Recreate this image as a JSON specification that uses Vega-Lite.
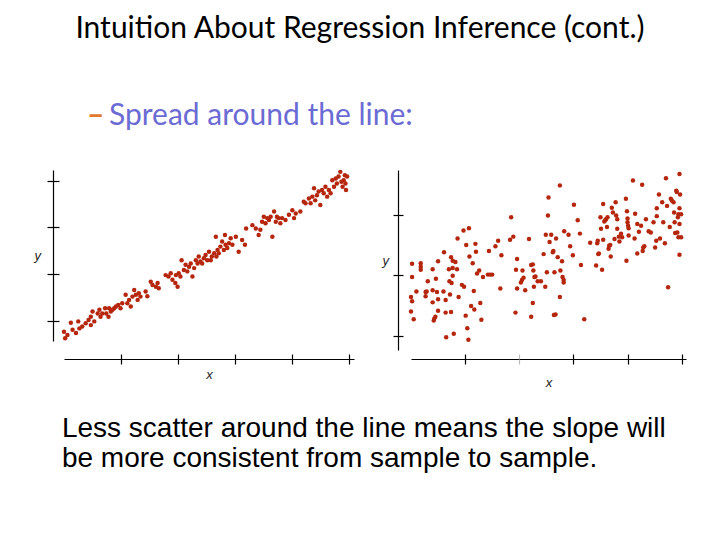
{
  "$schema": "https://vega.github.io/schema/vega-lite/v6.json",
  "background": "white",
  "padding": {"left": 33, "top": 14, "right": 5, "bottom": 5},
  "title": {"text": "Intuition About Regression Inference (cont.)", "font": "Lato", "fontSize": 30, "fontWeight": "normal", "color": "black", "anchor": "middle", "offset": 57},
  "config": {
    "view": {"stroke": null},
    "axis": {"grid": false, "labels": false, "domainColor": "black", "tickColor": "black", "domainWidth": 1.2, "tickWidth": 1.2, "titleFont": "Liberation Sans", "titleFontStyle": "italic", "titleFontWeight": "normal", "titleFontSize": 13, "titleColor": "#222"}
  },
  "datasets": {
    "tight": [
      {"x":0.00,"y":0.77},{"x":0.02,"y":0.63},{"x":0.06,"y":0.70},{"x":0.12,"y":0.96},{"x":0.15,"y":0.81},{"x":0.21,"y":0.74},{"x":0.25,"y":0.99},{"x":0.27,"y":0.84},{"x":0.32,"y":0.88},{"x":0.38,"y":0.95},
      {"x":0.43,"y":1.02},{"x":0.47,"y":0.91},{"x":0.47,"y":1.09},{"x":0.50,"y":1.20},{"x":0.53,"y":0.99},{"x":0.59,"y":1.16},{"x":0.62,"y":1.24},{"x":0.64,"y":1.09},{"x":0.67,"y":1.16},{"x":0.72,"y":1.27},
      {"x":0.74,"y":1.16},{"x":0.78,"y":1.09},{"x":0.79,"y":1.27},{"x":0.82,"y":1.20},{"x":0.85,"y":1.24},{"x":0.88,"y":1.27},{"x":0.91,"y":1.31},{"x":0.95,"y":1.34},{"x":0.99,"y":1.27},{"x":1.02,"y":1.38},
      {"x":1.08,"y":1.56},{"x":1.11,"y":1.38},{"x":1.14,"y":1.45},{"x":1.17,"y":1.31},{"x":1.20,"y":1.52},{"x":1.23,"y":1.66},{"x":1.26,"y":1.56},{"x":1.29,"y":1.45},{"x":1.31,"y":1.59},{"x":1.34,"y":1.52},
      {"x":1.43,"y":1.63},{"x":1.46,"y":1.53},{"x":1.52,"y":1.84},{"x":1.55,"y":1.77},{"x":1.61,"y":1.73},{"x":1.64,"y":1.81},{"x":1.66,"y":1.70},{"x":1.78,"y":1.98},{"x":1.83,"y":1.95},{"x":1.87,"y":2.02},
      {"x":1.90,"y":1.88},{"x":1.95,"y":1.81},{"x":1.96,"y":1.98},{"x":1.99,"y":1.73},{"x":2.01,"y":2.02},{"x":2.04,"y":1.95},{"x":2.06,"y":2.30},{"x":2.10,"y":2.09},{"x":2.13,"y":2.20},{"x":2.16,"y":2.06},
      {"x":2.19,"y":2.16},{"x":2.22,"y":2.23},{"x":2.25,"y":1.95},{"x":2.28,"y":2.13},{"x":2.31,"y":2.30},{"x":2.34,"y":2.23},{"x":2.36,"y":2.38},{"x":2.39,"y":2.27},{"x":2.42,"y":2.23},{"x":2.45,"y":2.34},
      {"x":2.48,"y":2.41},{"x":2.51,"y":2.30},{"x":2.54,"y":2.48},{"x":2.57,"y":2.30},{"x":2.59,"y":2.38},{"x":2.63,"y":2.45},{"x":2.66,"y":2.80},{"x":2.67,"y":2.38},{"x":2.69,"y":2.52},{"x":2.71,"y":2.45},
      {"x":2.74,"y":2.59},{"x":2.77,"y":2.70},{"x":2.80,"y":2.52},{"x":2.82,"y":2.84},{"x":2.83,"y":2.63},{"x":2.86,"y":2.56},{"x":2.89,"y":2.66},{"x":2.92,"y":2.77},{"x":2.95,"y":2.63},{"x":3.01,"y":2.80},
      {"x":3.06,"y":2.48},{"x":3.12,"y":2.73},{"x":3.17,"y":2.63},{"x":3.19,"y":2.98},{"x":3.30,"y":3.05},{"x":3.36,"y":2.98},{"x":3.41,"y":2.84},{"x":3.44,"y":2.95},{"x":3.47,"y":3.12},{"x":3.50,"y":3.23},
      {"x":3.53,"y":3.09},{"x":3.56,"y":3.20},{"x":3.59,"y":3.16},{"x":3.62,"y":3.23},{"x":3.65,"y":2.80},{"x":3.68,"y":3.34},{"x":3.71,"y":3.12},{"x":3.73,"y":3.23},{"x":3.76,"y":3.20},{"x":3.79,"y":3.09},
      {"x":3.82,"y":3.20},{"x":3.88,"y":3.16},{"x":3.94,"y":3.27},{"x":4.00,"y":3.37},{"x":4.03,"y":3.20},{"x":4.06,"y":3.30},{"x":4.14,"y":3.34},{"x":4.20,"y":3.55},{"x":4.23,"y":3.52},{"x":4.29,"y":3.62},
      {"x":4.32,"y":3.52},{"x":4.35,"y":3.66},{"x":4.38,"y":3.84},{"x":4.40,"y":3.58},{"x":4.43,"y":3.69},{"x":4.46,"y":3.77},{"x":4.49,"y":3.48},{"x":4.52,"y":3.80},{"x":4.55,"y":3.73},{"x":4.58,"y":3.87},
      {"x":4.61,"y":3.66},{"x":4.64,"y":3.80},{"x":4.67,"y":3.73},{"x":4.70,"y":4.01},{"x":4.73,"y":3.87},{"x":4.76,"y":4.05},{"x":4.78,"y":3.94},{"x":4.81,"y":4.09},{"x":4.84,"y":4.19},{"x":4.86,"y":3.98},
      {"x":4.88,"y":3.87},{"x":4.90,"y":4.01},{"x":4.92,"y":4.12},{"x":4.93,"y":3.94},{"x":4.94,"y":3.80},{"x":4.96,"y":4.09}
    ],
    "loose": [
      {"x":0.02,"y":2.19},{"x":0.02,"y":1.97},{"x":0.00,"y":1.64},{"x":0.02,"y":1.57},{"x":0.00,"y":1.40},{"x":0.05,"y":1.27},{"x":0.10,"y":1.73},{"x":0.18,"y":2.20},{"x":0.18,"y":2.14},{"x":0.18,"y":2.09},
      {"x":0.27,"y":1.72},{"x":0.27,"y":1.65},{"x":0.29,"y":1.73},{"x":0.31,"y":1.90},{"x":0.40,"y":2.10},{"x":0.40,"y":1.75},{"x":0.40,"y":1.55},{"x":0.42,"y":1.25},{"x":0.43,"y":1.28},{"x":0.45,"y":1.31},
      {"x":0.46,"y":1.94},{"x":0.48,"y":1.72},{"x":0.50,"y":2.23},{"x":0.50,"y":1.60},{"x":0.50,"y":1.41},{"x":0.61,"y":2.38},{"x":0.60,"y":1.73},{"x":0.64,"y":1.59},{"x":0.64,"y":1.38},{"x":0.65,"y":0.97},
      {"x":0.70,"y":2.10},{"x":0.71,"y":1.90},{"x":0.72,"y":1.68},{"x":0.74,"y":2.30},{"x":0.74,"y":1.39},{"x":0.75,"y":1.87},{"x":0.77,"y":2.24},{"x":0.77,"y":1.99},{"x":0.77,"y":2.12},{"x":0.79,"y":1.03},
      {"x":0.82,"y":2.22},{"x":0.85,"y":2.10},{"x":0.86,"y":2.61},{"x":0.88,"y":1.64},{"x":0.94,"y":1.84},{"x":0.97,"y":2.74},{"x":0.98,"y":1.81},{"x":1.01,"y":1.33},{"x":1.02,"y":2.50},{"x":1.04,"y":1.12},
      {"x":1.06,"y":0.93},{"x":1.07,"y":2.78},{"x":1.08,"y":2.31},{"x":1.11,"y":1.49},{"x":1.14,"y":2.20},{"x":1.16,"y":1.74},{"x":1.17,"y":1.43},{"x":1.19,"y":2.52},{"x":1.20,"y":2.39},{"x":1.22,"y":2.03},
      {"x":1.26,"y":2.08},{"x":1.28,"y":1.54},{"x":1.30,"y":1.26},{"x":1.33,"y":1.97},{"x":1.42,"y":2.01},{"x":1.44,"y":2.40},{"x":1.46,"y":2.01},{"x":1.50,"y":2.01},{"x":1.56,"y":2.48},{"x":1.61,"y":2.57},
      {"x":1.65,"y":1.78},{"x":1.67,"y":2.33},{"x":1.83,"y":2.59},{"x":1.85,"y":2.96},{"x":1.89,"y":2.64},{"x":1.93,"y":1.38},{"x":1.94,"y":2.09},{"x":1.96,"y":1.78},{"x":1.96,"y":2.27},{"x":2.03,"y":1.88},
      {"x":2.05,"y":1.92},{"x":2.06,"y":2.08},{"x":2.08,"y":1.96},{"x":2.11,"y":1.75},{"x":2.18,"y":2.60},{"x":2.22,"y":1.31},{"x":2.22,"y":2.17},{"x":2.25,"y":2.18},{"x":2.25,"y":1.54},{"x":2.26,"y":2.08},
      {"x":2.27,"y":1.81},{"x":2.28,"y":1.97},{"x":2.30,"y":1.98},{"x":2.34,"y":1.90},{"x":2.40,"y":1.90},{"x":2.45,"y":2.35},{"x":2.48,"y":1.81},{"x":2.49,"y":2.67},{"x":2.51,"y":2.05},{"x":2.53,"y":2.99},
      {"x":2.54,"y":3.29},{"x":2.56,"y":2.55},{"x":2.59,"y":2.67},{"x":2.62,"y":2.38},{"x":2.63,"y":2.40},{"x":2.64,"y":1.34},{"x":2.65,"y":2.05},{"x":2.67,"y":1.35},{"x":2.68,"y":2.61},{"x":2.71,"y":2.30},
      {"x":2.75,"y":1.64},{"x":2.75,"y":3.49},{"x":2.76,"y":2.08},{"x":2.79,"y":2.23},{"x":2.80,"y":1.97},{"x":2.82,"y":1.92},{"x":2.82,"y":1.88},{"x":2.83,"y":2.73},{"x":2.91,"y":2.67},{"x":2.94,"y":2.48},
      {"x":2.99,"y":2.33},{"x":3.01,"y":3.17},{"x":3.08,"y":2.91},{"x":3.12,"y":2.69},{"x":3.14,"y":2.17},{"x":3.20,"y":1.27},{"x":3.31,"y":2.54},{"x":3.42,"y":2.16},{"x":3.44,"y":2.53},{"x":3.45,"y":2.57},
      {"x":3.46,"y":2.35},{"x":3.47,"y":2.36},{"x":3.50,"y":2.96},{"x":3.51,"y":2.77},{"x":3.53,"y":2.09},{"x":3.55,"y":3.18},{"x":3.55,"y":2.59},{"x":3.57,"y":2.89},{"x":3.59,"y":2.91},{"x":3.60,"y":2.93},
      {"x":3.62,"y":2.80},{"x":3.63,"y":2.96},{"x":3.65,"y":2.44},{"x":3.66,"y":2.49},{"x":3.68,"y":2.50},{"x":3.69,"y":2.31},{"x":3.71,"y":3.12},{"x":3.73,"y":3.04},{"x":3.76,"y":2.60},{"x":3.78,"y":3.21},
      {"x":3.79,"y":2.99},{"x":3.81,"y":2.93},{"x":3.81,"y":2.77},{"x":3.84,"y":2.64},{"x":3.85,"y":2.56},{"x":3.88,"y":2.69},{"x":3.90,"y":2.63},{"x":3.97,"y":3.27},{"x":3.98,"y":2.24},{"x":3.99,"y":3.06},
      {"x":4.00,"y":2.94},{"x":4.00,"y":2.88},{"x":4.01,"y":2.82},{"x":4.02,"y":2.78},{"x":4.02,"y":2.66},{"x":4.10,"y":3.57},{"x":4.13,"y":2.61},{"x":4.14,"y":3.02},{"x":4.18,"y":2.36},{"x":4.18,"y":2.85},
      {"x":4.21,"y":2.72},{"x":4.25,"y":2.82},{"x":4.27,"y":3.50},{"x":4.28,"y":2.40},{"x":4.29,"y":2.46},{"x":4.31,"y":2.48},{"x":4.34,"y":2.93},{"x":4.39,"y":2.73},{"x":4.43,"y":2.71},{"x":4.48,"y":2.88},
      {"x":4.51,"y":2.46},{"x":4.53,"y":2.57},{"x":4.54,"y":3.11},{"x":4.54,"y":2.98},{"x":4.58,"y":3.34},{"x":4.60,"y":2.61},{"x":4.64,"y":3.21},{"x":4.66,"y":2.88},{"x":4.69,"y":2.53},{"x":4.71,"y":3.61},
      {"x":4.73,"y":3.15},{"x":4.75,"y":1.80},{"x":4.78,"y":2.80},{"x":4.80,"y":3.27},{"x":4.82,"y":3.24},{"x":4.85,"y":3.21},{"x":4.86,"y":3.04},{"x":4.87,"y":2.88},{"x":4.88,"y":2.70},{"x":4.90,"y":3.40},
      {"x":4.91,"y":3.38},{"x":4.92,"y":2.71},{"x":4.93,"y":2.96},{"x":4.94,"y":2.63},{"x":4.94,"y":3.01},{"x":4.96,"y":3.11},{"x":4.96,"y":2.85},{"x":4.96,"y":2.34},{"x":4.96,"y":3.68},{"x":4.97,"y":3.34},
      {"x":4.99,"y":3.01},{"x":4.99,"y":2.63}
    ]
  },
  "vconcat": [
    {
      "title": {"text": "–", "font": "Lato", "fontSize": 30, "fontWeight": "bold", "color": "#e07a2c", "anchor": "start", "dx": 53, "offset": -30},
      "vconcat": [
        {
          "title": {"text": ["Less scatter around the line means the slope will", "be more consistent from sample to sample."], "orient": "bottom", "anchor": "start", "font": "Liberation Sans", "fontSize": 28, "fontWeight": "normal", "color": "black", "lineHeight": 30, "dx": 28, "offset": 25},
          "bounds": "flush",
          "spacing": 57,
          "hconcat": [
            {
              "width": 290,
              "height": 171,
              "data": {"name": "tight"},
              "title": {"text": "Spread around the line:", "font": "Lato", "fontSize": 30, "fontWeight": "normal", "color": "#6b6bd4", "anchor": "start", "frame": "group", "dx": 45, "offset": 38},
              "layer": [
                {
                  "mark": {"type": "circle", "size": 20, "color": "#b5260c", "opacity": 1},
                  "encoding": {
                    "x": {"field": "x", "type": "quantitative", "scale": {"domain": [0, 5.08], "nice": false, "zero": false}, "axis": {"orient": "bottom", "offset": 18, "values": [1, 2, 3, 4, 5], "tickSize": 5, "title": "x", "titlePadding": 4}},
                    "y": {"field": "y", "type": "quantitative", "scale": {"domain": [0.57, 4.23], "nice": false, "zero": false}, "axis": {"orient": "left", "offset": 11, "values": [1, 2, 3, 4], "tickSize": 6, "title": "y", "titleAngle": 0, "titleAlign": "right", "titleBaseline": "middle", "titlePadding": 6}}
                  }
                },
                {
                  "mark": {"type": "circle", "opacity": 0},
                  "encoding": {
                    "x": {"field": "x", "type": "quantitative", "axis": {"orient": "bottom", "offset": 18, "values": [1, 2, 3, 4, 5], "tickSize": -5, "domain": false, "title": null}},
                    "y": {"field": "y", "type": "quantitative", "axis": {"orient": "left", "offset": 11, "values": [1, 2, 3, 4], "tickSize": -6, "domain": false, "title": null}}
                  }
                }
              ],
              "resolve": {"axis": {"x": "independent", "y": "independent"}}
            },
            {
              "width": 275,
              "height": 180,
              "data": {"name": "loose"},
              "layer": [
                {
                  "mark": {"type": "circle", "size": 20, "color": "#b5260c", "opacity": 1},
                  "encoding": {
                    "x": {"field": "x", "type": "quantitative", "scale": {"domain": [0, 5.08], "nice": false, "zero": false}, "axis": {"orient": "bottom", "offset": 9, "values": [1, 2, 3, 4, 5], "tickSize": 5, "tickColor": {"condition": {"test": "datum.value === 2", "value": "#bbbbbb"}, "value": "black"}, "title": "x", "titlePadding": 12}},
                    "y": {"field": "y", "type": "quantitative", "scale": {"domain": [0.76, 3.745], "nice": false, "zero": false}, "axis": {"orient": "left", "offset": 13, "values": [1, 2, 3], "tickSize": 5, "title": "y", "titleAngle": 0, "titleAlign": "right", "titleBaseline": "middle", "titlePadding": 4}}
                  }
                },
                {
                  "mark": {"type": "circle", "opacity": 0},
                  "encoding": {
                    "x": {"field": "x", "type": "quantitative", "axis": {"orient": "bottom", "offset": 9, "values": [1, 2, 3, 4, 5], "tickSize": -5, "tickColor": {"condition": {"test": "datum.value === 2", "value": "#bbbbbb"}, "value": "black"}, "domain": false, "title": null}},
                    "y": {"field": "y", "type": "quantitative", "axis": {"orient": "left", "offset": 13, "values": [1, 2, 3], "tickSize": -5, "domain": false, "title": null}}
                  }
                }
              ],
              "resolve": {"axis": {"x": "independent", "y": "independent"}}
            }
          ]
        }
      ]
    }
  ]
}
